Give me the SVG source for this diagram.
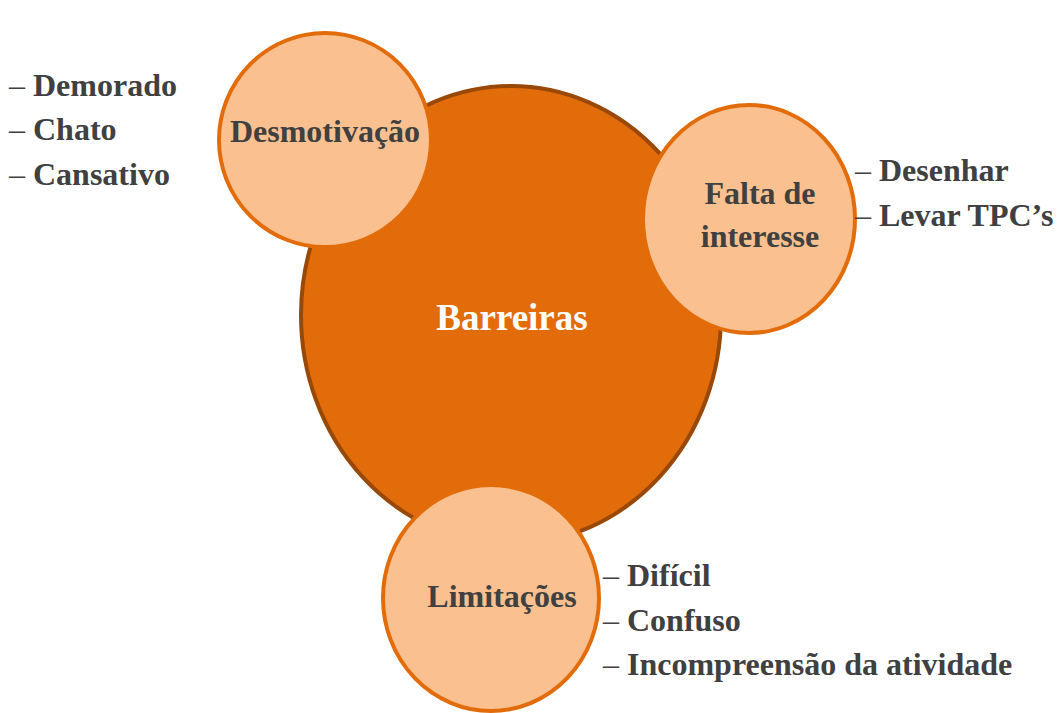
<svg xmlns="http://www.w3.org/2000/svg" width="1059" height="713" viewBox="0 0 1059 713">
<style>
.t{font-family:"Liberation Serif","Times New Roman",serif;font-weight:bold;font-size:32px;fill:#404040}
.c{text-anchor:middle}
.d{font-weight:normal}
.sub{fill:#FAC090;stroke:#E36C0A;stroke-width:4}
</style>
<rect width="1059" height="713" fill="#fff"/>
<g id="connectors"></g>
<g id="barreiras">
<ellipse cx="511" cy="315" rx="210" ry="229" fill="#E36C0A" stroke="#984807" stroke-width="4"/>
<text x="512" y="330" class="t c" style="font-size:37px;fill:#fff">Barreiras</text>
</g>
<g id="desmotivacao">
<ellipse cx="325" cy="140" rx="106" ry="107" class="sub"/>
<text x="325" y="142" class="t c">Desmotivação</text>
<text x="9" y="96" class="t"><tspan class="d">–</tspan> Demorado</text>
<text x="9" y="140" class="t"><tspan class="d">–</tspan> Chato</text>
<text x="9" y="185" class="t"><tspan class="d">–</tspan> Cansativo</text>
</g>
<g id="falta">
<ellipse cx="749" cy="219" rx="106" ry="114" class="sub"/>
<text x="760" y="204" class="t c">Falta de</text>
<text x="760" y="247" class="t c">interesse</text>
<text x="855" y="181" class="t"><tspan class="d">–</tspan> Desenhar</text>
<text x="855" y="226" class="t"><tspan class="d">–</tspan> Levar TPC’s</text>
</g>
<g id="limitacoes">
<ellipse cx="491" cy="598" rx="108" ry="113" class="sub"/>
<text x="502" y="607" class="t c">Limitações</text>
<text x="603" y="586" class="t"><tspan class="d">–</tspan> Difícil</text>
<text x="603" y="631" class="t"><tspan class="d">–</tspan> Confuso</text>
<text x="603" y="675" class="t"><tspan class="d">–</tspan> Incompreensão da atividade</text>
</g>
</svg>
